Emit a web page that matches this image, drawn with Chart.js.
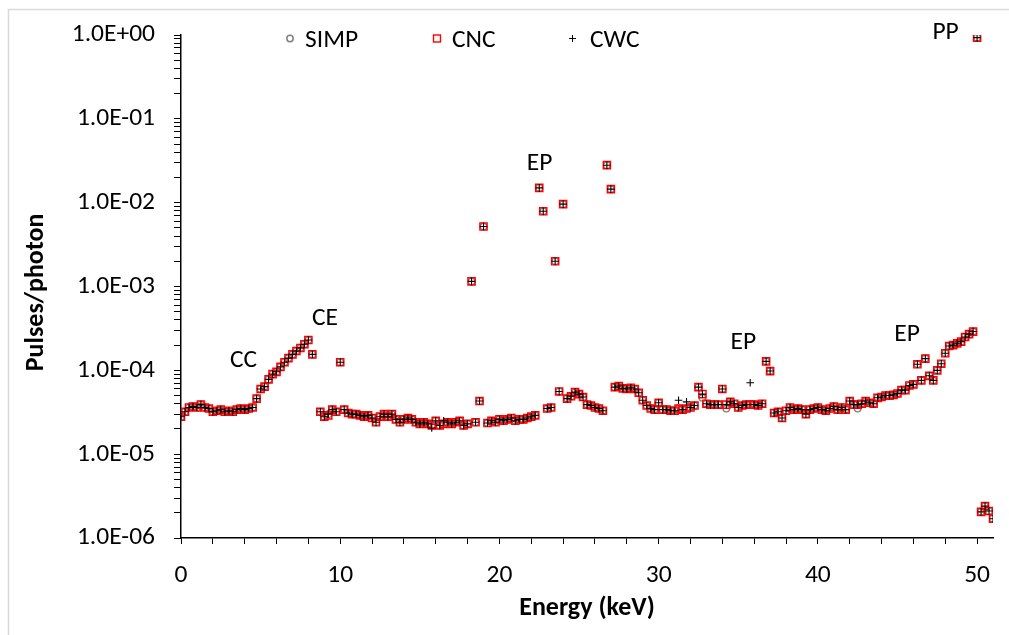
<!DOCTYPE html>
<html><head><meta charset="utf-8">
<script src="https://cdn.jsdelivr.net/npm/chart.js@4"></script>
<style>html,body{margin:0;padding:0;background:#fff;}canvas{display:block}</style>
</head><body>
<canvas id="c" width="1009" height="635"></canvas>
<script>
const energies = [0,0.25,0.5,0.75,1,1.25,1.5,1.75,2,2.25,2.5,2.75,3,3.25,3.5,3.75,4,4.25,4.5,4.75,5,5.25,5.5,5.75,6,6.25,6.5,6.75,7,7.25,7.5,7.75,8,8.25,8.5,8.75,9,9.25,9.5,9.75,10,10.25,10.5,10.75,11,11.25,11.5,11.75,12,12.25,12.5,12.75,13,13.25,13.5,13.75,14,14.25,14.5,14.75,15,15.25,15.5,15.75,16,16.25,16.5,16.75,17,17.25,17.5,17.75,18,18.25,18.5,18.75,19,19.25,19.5,19.75,20,20.25,20.5,20.75,21,21.25,21.5,21.75,22,22.25,22.5,22.75,23,23.25,23.5,23.75,24,24.25,24.5,24.75,25,25.25,25.5,25.75,26,26.25,26.5,26.75,27,27.25,27.5,27.75,28,28.25,28.5,28.75,29,29.25,29.5,29.75,30,30.25,30.5,30.75,31,31.25,31.5,31.75,32,32.25,32.5,32.75,33,33.25,33.5,33.75,34,34.25,34.5,34.75,35,35.25,35.5,35.75,36,36.25,36.5,36.75,37,37.25,37.5,37.75,38,38.25,38.5,38.75,39,39.25,39.5,39.75,40,40.25,40.5,40.75,41,41.25,41.5,41.75,42,42.25,42.5,42.75,43,43.25,43.5,43.75,44,44.25,44.5,44.75,45,45.25,45.5,45.75,46,46.25,46.5,46.75,47,47.25,47.5,47.75,48,48.25,48.5,48.75,49,49.25,49.5,49.75,50,50.25,50.5,50.75,51];

const simp = [2.8e-5,3.2e-5,3.6e-5,3.7e-5,3.6e-5,3.9e-5,3.6e-5,3.5e-5,3.2e-5,3.3e-5,
3.4e-5,3.2e-5,3.3e-5,3.2e-5,3.4e-5,3.5e-5,3.4e-5,3.5e-5,3.6e-5,4.6e-5,
6.0e-5,6.4e-5,7.8e-5,9.0e-5,9.6e-5,1.1e-4,1.25e-4,1.4e-4,1.55e-4,1.7e-4,
1.85e-4,2.05e-4,2.3e-4,1.55e-4,null,3.2e-5,2.8e-5,3.0e-5,3.4e-5,3.2e-5,
1.25e-4,3.4e-5,3.1e-5,3.0e-5,3.0e-5,2.9e-5,2.8e-5,2.9e-5,2.7e-5,2.4e-5,
2.8e-5,3.0e-5,2.8e-5,3.0e-5,2.6e-5,2.4e-5,2.6e-5,2.7e-5,2.6e-5,2.4e-5,
2.3e-5,2.4e-5,2.3e-5,2.2e-5,2.5e-5,2.2e-5,2.3e-5,2.4e-5,2.3e-5,2.4e-5,
2.5e-5,2.2e-5,2.3e-5,1.15e-3,2.4e-5,4.3e-5,5.2e-3,2.35e-5,2.5e-5,2.4e-5,
2.6e-5,2.5e-5,2.6e-5,2.7e-5,2.5e-5,2.6e-5,2.6e-5,2.7e-5,2.8e-5,2.9e-5,
1.5e-2,7.9e-3,3.5e-5,3.6e-5,2.0e-3,5.6e-5,9.6e-3,4.6e-5,4.9e-5,5.5e-5,
5.2e-5,4.8e-5,3.9e-5,3.8e-5,3.6e-5,3.5e-5,3.3e-5,2.8e-2,1.45e-2,6.3e-5,
6.5e-5,6.1e-5,6.0e-5,6.2e-5,6.0e-5,5.4e-5,4.4e-5,3.8e-5,3.5e-5,3.4e-5,
4.1e-5,3.4e-5,3.4e-5,3.3e-5,3.3e-5,3.5e-5,3.4e-5,3.5e-5,3.6e-5,3.8e-5,
6.3e-5,4.7e-5,4.0e-5,3.9e-5,3.9e-5,3.9e-5,6.0e-5,3.5e-5,4.2e-5,4.0e-5,
3.6e-5,3.8e-5,3.9e-5,3.9e-5,3.9e-5,3.8e-5,4.0e-5,1.28e-4,9.8e-5,3.1e-5,
3.2e-5,2.7e-5,3.3e-5,3.6e-5,3.4e-5,3.5e-5,3.4e-5,3.0e-5,3.4e-5,3.5e-5,
3.6e-5,3.4e-5,3.3e-5,3.5e-5,3.7e-5,3.4e-5,3.6e-5,3.4e-5,4.3e-5,3.9e-5,
3.5e-5,4.0e-5,4.3e-5,4.1e-5,4.0e-5,4.7e-5,4.8e-5,5.0e-5,5.0e-5,5.1e-5,
5.3e-5,5.8e-5,5.8e-5,6.6e-5,6.8e-5,1.18e-4,7.6e-5,1.38e-4,8.6e-5,7.6e-5,
1.0e-4,1.2e-4,1.6e-4,1.95e-4,2.0e-4,2.1e-4,2.2e-4,2.5e-4,2.7e-4,2.9e-4,
0.93,2.05e-6,2.4e-6,2.1e-6,1.7e-6];

const cnc = [2.8e-5,3.2e-5,3.6e-5,3.7e-5,3.6e-5,3.9e-5,3.6e-5,3.5e-5,3.2e-5,3.3e-5,
3.4e-5,3.2e-5,3.3e-5,3.2e-5,3.4e-5,3.5e-5,3.4e-5,3.5e-5,3.6e-5,4.6e-5,
6.0e-5,6.4e-5,7.8e-5,9.0e-5,9.6e-5,1.1e-4,1.25e-4,1.4e-4,1.55e-4,1.7e-4,
1.85e-4,2.05e-4,2.3e-4,1.55e-4,null,3.2e-5,2.8e-5,2.9e-5,3.4e-5,3.2e-5,
1.25e-4,3.4e-5,3.1e-5,3.0e-5,3.0e-5,2.9e-5,2.8e-5,2.9e-5,2.7e-5,2.4e-5,
2.8e-5,3.0e-5,2.8e-5,3.0e-5,2.6e-5,2.4e-5,2.6e-5,2.7e-5,2.6e-5,2.4e-5,
2.3e-5,2.4e-5,2.3e-5,2.2e-5,2.5e-5,2.2e-5,2.3e-5,2.4e-5,2.3e-5,2.4e-5,
2.5e-5,2.2e-5,2.3e-5,1.15e-3,2.4e-5,4.3e-5,5.2e-3,2.35e-5,2.5e-5,2.4e-5,
2.6e-5,2.5e-5,2.6e-5,2.7e-5,2.5e-5,2.6e-5,2.6e-5,2.7e-5,2.8e-5,2.9e-5,
1.5e-2,7.9e-3,3.5e-5,3.6e-5,2.0e-3,5.6e-5,9.6e-3,4.6e-5,4.9e-5,5.5e-5,
5.2e-5,4.8e-5,3.9e-5,3.8e-5,3.6e-5,3.5e-5,3.3e-5,2.8e-2,1.45e-2,6.3e-5,
6.5e-5,6.1e-5,6.0e-5,6.2e-5,6.0e-5,5.4e-5,4.4e-5,3.8e-5,3.5e-5,3.4e-5,
4.1e-5,3.4e-5,3.4e-5,3.3e-5,3.3e-5,3.5e-5,3.4e-5,3.5e-5,3.6e-5,3.8e-5,
6.3e-5,5.2e-5,4.0e-5,3.9e-5,3.9e-5,3.9e-5,6.0e-5,3.9e-5,4.2e-5,4.0e-5,
3.6e-5,3.8e-5,3.9e-5,3.9e-5,3.9e-5,3.8e-5,4.0e-5,1.28e-4,9.8e-5,3.1e-5,
3.2e-5,2.7e-5,3.3e-5,3.6e-5,3.4e-5,3.5e-5,3.4e-5,3.0e-5,3.4e-5,3.5e-5,
3.6e-5,3.4e-5,3.3e-5,3.5e-5,3.7e-5,3.4e-5,3.6e-5,3.4e-5,4.3e-5,3.9e-5,
3.9e-5,4.0e-5,4.3e-5,4.1e-5,4.0e-5,4.7e-5,4.8e-5,5.0e-5,5.0e-5,5.1e-5,
5.3e-5,5.8e-5,5.8e-5,6.6e-5,6.8e-5,1.18e-4,7.6e-5,1.38e-4,8.6e-5,7.6e-5,
1.0e-4,1.2e-4,1.6e-4,1.95e-4,2.0e-4,2.1e-4,2.2e-4,2.5e-4,2.7e-4,2.9e-4,
0.93,2.05e-6,2.4e-6,2.1e-6,1.7e-6];

const cwc = [2.8e-5,3.2e-5,3.6e-5,3.7e-5,3.6e-5,3.9e-5,3.6e-5,3.5e-5,3.2e-5,3.3e-5,
3.4e-5,3.2e-5,3.3e-5,3.2e-5,3.4e-5,3.5e-5,3.4e-5,3.5e-5,3.6e-5,4.6e-5,
6.0e-5,6.4e-5,7.8e-5,9.0e-5,9.6e-5,1.1e-4,1.25e-4,1.4e-4,1.55e-4,1.7e-4,
1.85e-4,2.05e-4,2.3e-4,1.55e-4,null,3.2e-5,2.8e-5,3.0e-5,3.4e-5,3.2e-5,
1.25e-4,3.4e-5,3.1e-5,3.0e-5,3.0e-5,2.9e-5,2.8e-5,2.9e-5,2.7e-5,2.4e-5,
2.8e-5,3.0e-5,2.8e-5,3.0e-5,2.6e-5,2.4e-5,2.6e-5,2.7e-5,2.6e-5,2.4e-5,
2.3e-5,2.4e-5,2.3e-5,2.05e-5,2.5e-5,2.2e-5,2.5e-5,2.4e-5,2.3e-5,2.4e-5,
2.5e-5,2.2e-5,2.3e-5,1.15e-3,2.4e-5,4.3e-5,5.2e-3,2.35e-5,2.5e-5,2.4e-5,
2.6e-5,2.5e-5,2.6e-5,2.7e-5,2.5e-5,2.6e-5,2.6e-5,2.7e-5,2.8e-5,2.9e-5,
1.5e-2,7.9e-3,3.5e-5,3.6e-5,2.0e-3,5.6e-5,9.6e-3,4.6e-5,4.9e-5,5.5e-5,
5.2e-5,4.8e-5,3.9e-5,3.8e-5,3.6e-5,3.5e-5,3.3e-5,2.8e-2,1.45e-2,6.3e-5,
6.5e-5,6.1e-5,6.0e-5,6.2e-5,6.0e-5,5.4e-5,4.4e-5,3.8e-5,3.5e-5,3.4e-5,
4.1e-5,3.4e-5,3.4e-5,3.3e-5,3.3e-5,4.4e-5,3.4e-5,4.2e-5,3.6e-5,3.8e-5,
6.3e-5,5.2e-5,4.0e-5,3.9e-5,3.9e-5,3.9e-5,6.0e-5,3.9e-5,4.2e-5,4.0e-5,
3.6e-5,3.8e-5,3.9e-5,7.1e-5,3.9e-5,3.8e-5,4.0e-5,1.28e-4,9.8e-5,3.1e-5,
3.2e-5,2.7e-5,3.3e-5,3.6e-5,3.4e-5,3.5e-5,3.4e-5,3.0e-5,3.4e-5,3.5e-5,
3.6e-5,3.4e-5,3.3e-5,3.5e-5,3.7e-5,3.4e-5,3.6e-5,3.4e-5,4.3e-5,3.9e-5,
3.9e-5,4.0e-5,4.3e-5,4.1e-5,4.0e-5,4.7e-5,4.8e-5,5.0e-5,5.0e-5,5.1e-5,
5.3e-5,5.8e-5,5.8e-5,6.6e-5,6.8e-5,1.18e-4,7.6e-5,1.38e-4,8.6e-5,7.6e-5,
1.0e-4,1.2e-4,1.6e-4,1.95e-4,2.0e-4,2.1e-4,2.2e-4,2.5e-4,2.7e-4,2.9e-4,
0.93,2.05e-6,2.4e-6,2.1e-6,1.7e-6];

const seriesNames = ['SIMP', 'CNC', 'CWC'];
const yTickValues = [1e-6, 1e-5, 1e-4, 1e-3, 1e-2, 1e-1, 1];
const yTickLabels = ['1.0E-06', '1.0E-05', '1.0E-04', '1.0E-03', '1.0E-02', '1.0E-01', '1.0E+00'];
const xTickValues = [0, 10, 20, 30, 40, 50];
const xTickLabels = ['0', '10', '20', '30', '40', '50'];
const xMinorTicks = [0,2,4,6,8,10,12,14,16,18,20,22,24,26,28,30,32,34,36,38,40,42,44,46,48,50];
const peakLabels = ['CC', 'CE', 'EP', 'EP', 'EP', 'PP'];
const peakLabelX = [3.93, 9.04, 22.52, 35.32, 45.6, 48.02];
const peakLabelY = [1.38e-4, 4.36e-4, 3.11e-2, 2.25e-4, 2.77e-4, 1.125];

const FONT = "Carlito, Lato, sans-serif";
const FS = 25.5;

function pts(arr) {
  return energies.map((e, i) => ({x: e, y: arr[i]})).filter(p => p.y !== null);
}

const decor = {
  id: 'decor',
  beforeDraw(chart) {
    const ctx = chart.ctx;
    ctx.save();
    ctx.fillStyle = '#fff';
    ctx.fillRect(0, 0, chart.width, chart.height);
    ctx.strokeStyle = '#d9d9d9';
    ctx.lineWidth = 1.5;
    ctx.beginPath();
    ctx.moveTo(8.5, chart.height);
    ctx.lineTo(8.5, 9.5);
    ctx.lineTo(chart.width, 9.5);
    ctx.stroke();
    ctx.restore();
  },
  afterDraw(chart) {
    const ctx = chart.ctx;
    const xs = chart.scales.x, ys = chart.scales.y;
    const capHalf = FS * 0.644 / 2;
    ctx.save();
    ctx.fillStyle = '#000';
    ctx.font = FS + 'px ' + FONT;
    ctx.textAlign = 'center';
    ctx.textBaseline = 'alphabetic';
    peakLabels.forEach((t, i) => {
      ctx.fillText(t, xs.getPixelForValue(peakLabelX[i]), ys.getPixelForValue(peakLabelY[i]) + capHalf);
    });
    // legend
    const ly = 38.5;
    ctx.textAlign = 'left';
    ctx.strokeStyle = '#808080'; ctx.lineWidth = 1.5;
    ctx.beginPath(); ctx.arc(290, ly, 3.2, 0, Math.PI * 2); ctx.stroke();
    ctx.strokeStyle = '#ff0000'; ctx.lineWidth = 1.4;
    ctx.strokeRect(433.5, ly - 3.5, 7, 7);
    ctx.strokeStyle = '#000'; ctx.lineWidth = 1;
    ctx.beginPath(); ctx.moveTo(569, ly); ctx.lineTo(576, ly); ctx.moveTo(572.5, ly - 3.5); ctx.lineTo(572.5, ly + 3.5); ctx.stroke();
    ctx.fillText(seriesNames[0], 305, ly + capHalf);
    ctx.fillText(seriesNames[1], 452, ly + capHalf);
    ctx.fillText(seriesNames[2], 590, ly + capHalf);
    ctx.restore();
  }
};

new Chart(document.getElementById('c'), {
  type: 'scatter',
  data: {
    datasets: [
      {label: seriesNames[0], data: pts(simp), pointStyle: 'circle', pointRadius: 3.3, pointBorderColor: '#808080', pointBackgroundColor: 'rgba(0,0,0,0)', pointBorderWidth: 1.4, order: 3},
      {label: seriesNames[1], data: pts(cnc), pointStyle: 'rect', pointRadius: 5.1, pointBorderColor: '#ff0000', pointBackgroundColor: 'rgba(0,0,0,0)', pointBorderWidth: 1.4, order: 2},
      {label: seriesNames[2], data: pts(cwc), pointStyle: 'cross', pointRadius: 3.8, pointBorderColor: '#000000', pointBackgroundColor: '#000', pointBorderWidth: 1.1, order: 1}
    ]
  },
  options: {
    responsive: false,
    animation: false,
    devicePixelRatio: 1,
    layout: {padding: {left: 20, right: 16, top: 35, bottom: 0}},
    plugins: {legend: {display: false}, tooltip: {enabled: false}},
    scales: {
      x: {
        type: 'linear', min: 0, max: 51,
        afterBuildTicks(s) { s.ticks = xMinorTicks.map(v => ({value: v})); },
        afterFit(s) { s.height = 97; },
        ticks: {
          autoSkip: false, maxRotation: 0, color: '#000', padding: 16,
          font: {family: FONT, size: FS},
          callback(v) { const k = xTickValues.indexOf(v); return k >= 0 ? xTickLabels[k] : ''; }
        },
        grid: {display: true, drawOnChartArea: false, drawTicks: true, tickLength: 6, color: '#000', lineWidth: 1},
        border: {display: true, color: '#000', width: 1.5},
        title: {display: true, text: 'Energy (keV)', color: '#000', font: {family: FONT, size: 26, weight: 'bold'}, padding: {top: 0, bottom: 11}}
      },
      y: {
        type: 'logarithmic', min: 1e-6, max: 1, position: 'left',
        afterBuildTicks(s) {
          const t = [];
          for (let e = -6; e < 0; e++) for (let m = 1; m <= 9; m++) t.push({value: m * Math.pow(10, e)});
          t.push({value: 1});
          s.ticks = t;
        },
        afterFit(s) { s.width = 161; },
        ticks: {
          autoSkip: false, color: '#000', padding: 19,
          font: {family: FONT, size: FS},
          callback(v) {
            const k = yTickValues.findIndex(d => Math.abs(d - v) / d < 1e-6);
            return k >= 0 ? yTickLabels[k] : '';
          }
        },
        grid: {display: true, drawOnChartArea: false, drawTicks: true, tickLength: 7, color: '#000', lineWidth: 1},
        border: {display: true, color: '#000', width: 1.5},
        title: {display: true, text: 'Pulses/photon  ', color: '#000', font: {family: FONT, size: 26, weight: 'bold'}, padding: {top: 1, bottom: 0}}
      }
    }
  },
  plugins: [decor]
});
</script>
</body></html>
